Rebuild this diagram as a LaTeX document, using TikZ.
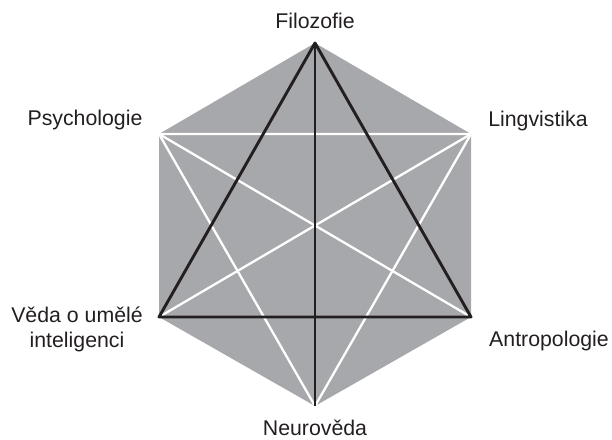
\documentclass[tikz,border=0pt]{standalone}
\usepackage{fontspec}
\setmainfont{Liberation Sans}
\definecolor{hexgray}{HTML}{A7A8AB}
\definecolor{inkblack}{HTML}{231F20}
\begin{document}
\begin{tikzpicture}[x=1pt,y=-1pt,
  label/.style={font=\fontsize{21.3}{25}\selectfont, text=inkblack, anchor=base, inner sep=0pt, align=center},
  blackline/.style={draw=inkblack, line width=2.9pt, line join=round},
  whiteline/.style={draw=white, line width=2.3pt, line join=round}]
\useasboundingbox (0,0) rectangle (612,439);
\coordinate (T) at (315,43);
\coordinate (UL) at (159,134);
\coordinate (UR) at (471,134);
\coordinate (LL) at (159,317);
\coordinate (LR) at (471,317);
\coordinate (B) at (315,406);
\fill[hexgray] (T) -- (UR) -- (LR) -- (B) -- (LL) -- (UL) -- cycle;
% white triangle and diagonals
\draw[whiteline] (UL) -- (UR) -- (B) -- cycle;
\draw[whiteline] (UL) -- (LR);
\draw[whiteline] (UR) -- (LL);
% black triangle and vertical
\draw[blackline] (T) -- (LR) -- (LL) -- cycle;
\draw[blackline] (T) -- (B);
\node[label] (filo) at (315,28) {Filozofie};
\node[label] (psy) at (85,125) {Psychologie};
\node[label] (ling) at (538,126) {Lingvistika};
\node[label] (ai) at (77,347) {Věda o umělé\\inteligenci};
\node[label] (antro) at (549,346) {Antropologie};
\node[label] (neuro) at (315,435) {Neurověda};
\end{tikzpicture}
\end{document}
